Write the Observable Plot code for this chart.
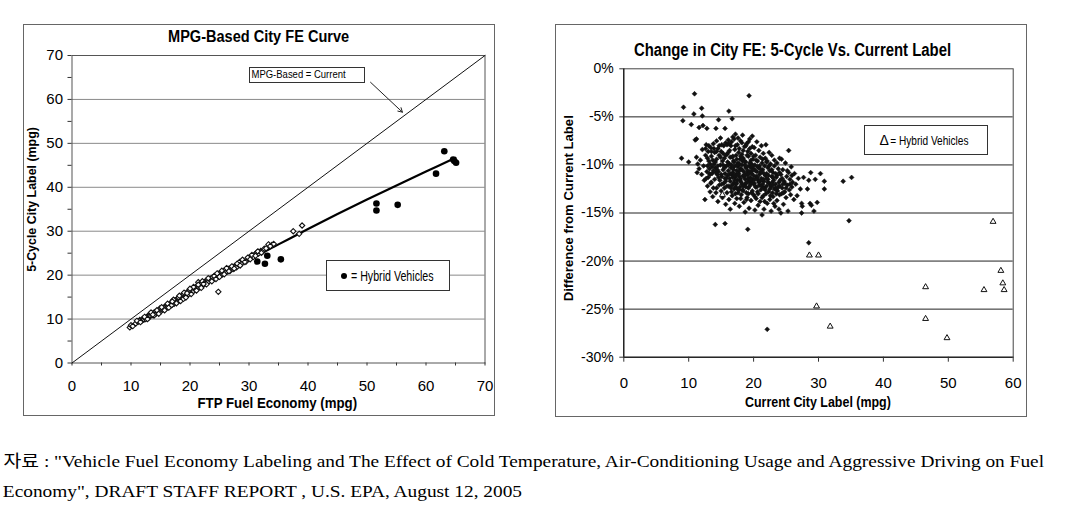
<!DOCTYPE html>
<html><head><meta charset="utf-8">
<script src="https://cdn.jsdelivr.net/npm/d3@7"></script>
<script src="https://cdn.jsdelivr.net/npm/@observablehq/plot@0.6"></script>
<style>
body{margin:0;background:#fff;}
#root{position:relative;width:1071px;height:511px;overflow:hidden;font-family:"Liberation Sans",Arial,sans-serif;color:#000;background:#fff;}
.box{position:absolute;box-sizing:border-box;}
.t{position:absolute;white-space:nowrap;line-height:1;transform-origin:50% 50%;}
#root svg{position:absolute;}
</style></head><body><div id="root"></div>
<script>
// ---------------- DATA ----------------
// Left chart: FTP fuel economy (mpg) vs 5-cycle city label (mpg)
const leftTicksLabeled = [0, 10, 20, 30, 40, 50, 60, 70];
const leftGridValues = [10, 20, 30, 40, 50, 60];
const diagonal = [[0, 0], [70, 70]];
const fitCurve = [[10,8.2],[15,12.3],[20,16.1],[25,19.8],[30,23.5],[35,27.0],[40,30.5],[45,33.9],[50,37.2],[55,40.4],[60,43.6],[65,46.7]];
const conventionalLeft = [
[9.8,8.1],[10.0,8.6],[10.3,8.4],[10.8,9.0],[11.2,9.4],[11.5,9.8],[11.8,9.6],[12.0,10.1],[12.1,10.0],[12.2,9.9],[12.4,10.3],[12.5,10.0],[12.7,10.4],[12.9,10.7],[13.0,10.3],[13.1,11.0],[13.2,11.1],[13.3,10.8],[13.5,11.2],[13.6,10.9],[13.8,11.4],[14.0,11.1],[14.1,11.6],[14.3,11.3],[14.5,11.8],[14.6,11.5],[14.8,12.0],[14.9,12.4],[15.0,11.7],[15.1,12.3],[15.3,12.1],[15.5,12.6],[15.6,12.2],[15.8,12.8],[16.0,12.5],[16.1,13.1],[16.2,13.3],[16.3,12.8],[16.5,13.4],[16.6,13.0],[16.8,13.6],[16.9,13.9],[17.0,13.3],[17.1,13.9],[17.3,13.5],[17.4,14.2],[17.5,14.3],[17.6,13.8],[17.8,14.4],[17.9,14.0],[18.0,14.8],[18.2,14.3],[18.3,15.0],[18.5,14.6],[18.6,15.3],[18.7,15.2],[18.8,14.9],[18.9,15.6],[19.1,15.1],[19.2,15.8],[19.4,15.4],[19.5,16.0],[19.6,16.1],[19.7,15.6],[19.8,16.3],[20.0,15.9],[20.1,16.6],[20.3,16.2],[20.4,16.8],[20.5,16.9],[20.6,16.4],[20.7,17.1],[20.9,16.7],[21.0,17.3],[21.2,16.9],[21.3,17.6],[21.4,18.4],[21.5,17.2],[21.6,17.6],[21.7,17.9],[21.8,17.4],[22.0,18.1],[22.2,17.7],[22.4,18.4],[22.5,18.0],[22.6,18.5],[22.7,18.7],[22.9,18.3],[23.0,18.9],[23.2,18.6],[23.4,19.2],[23.5,19.0],[23.6,18.8],[23.8,19.5],[24.0,19.1],[24.2,19.8],[24.3,19.4],[24.5,20.0],[24.7,19.7],[24.8,16.2],[24.9,20.3],[25.1,20.0],[25.3,20.6],[25.5,20.2],[25.7,20.9],[25.9,20.5],[26.1,21.2],[26.3,20.8],[26.5,21.4],[26.8,21.0],[27.0,21.7],[27.3,21.4],[27.6,22.1],[27.9,21.8],[28.2,22.5],[28.4,23.0],[28.7,22.6],[29.0,23.3],[29.5,23.1],[30.0,23.9],[30.3,24.3],[30.7,24.1],[31.0,24.7],[31.3,25.1],[31.6,24.9],[32.0,25.5],[32.3,25.3],[32.6,26.0],[33.3,27.0],[33.9,26.9],[34.2,27.1],[37.5,30.0],[38.5,29.4],[39.0,31.3],
[11.0,9.6],[11.6,9.3],[12.3,10.5],[12.8,10.0],[13.4,11.5],[13.9,10.8],[14.4,12.0],[14.7,11.2],[15.2,12.7],[15.7,12.0],[16.2,13.5],[16.4,12.6],[16.9,13.2],[17.2,14.4],[17.7,13.6],[18.1,14.9],[18.4,14.1],[18.9,14.6],[19.0,16.0],[19.3,14.9],[19.9,16.6],[20.2,15.7],[20.6,17.3],[21.1,16.5],[21.4,17.8],[21.9,17.1],[22.1,18.6],[22.8,17.9],[23.1,19.3],[23.7,18.6],[24.1,19.8],[24.4,19.1],[24.6,20.4],[25.0,19.6],[25.4,21.0],[25.8,20.2],[26.2,21.6],[26.6,20.9],[27.1,22.0],[27.5,21.5],[28.0,22.6],[28.5,22.2],[28.9,23.5],[29.3,23.0],[29.8,24.0],[30.2,23.6],[30.5,24.6],[31.1,24.4],[31.5,25.4],[32.1,25.1],[32.9,26.1],[33.6,26.6],[13.7,11.0],[17.0,14.0],[19.5,15.9],[22.3,18.0],[18.2,15.3],[20.0,16.9]
];
const hybridLeft = [[31.4,23.1],[32.7,22.6],[33.1,24.4],[35.4,23.6],[51.6,36.3],[51.6,34.7],[55.2,36.0],[61.7,43.1],[63.1,48.2],[64.6,46.3],[64.8,46.0],[65.1,45.6]];
const annotationArrow = [[50.6, 63.9, 56.0, 57.1]];

// Right chart: current city label (mpg) vs difference from current label (%)
const rightTicksX = [0, 10, 20, 30, 40, 50, 60];
const rightTicksY = [-30, -25, -20, -15, -10, -5, 0];
const rightGridValues = [-5, -10, -15, -20, -25];
const conventionalRight = [
[9.2,-4.0],[9.1,-5.4],[8.9,-9.3],[10.0,-9.7],[10.4,-5.8],[10.9,-2.6],[10.8,-4.7],[11.6,-6.1],[12.0,-4.1],[12.1,-4.9],[12.2,-5.9],[11.0,-7.4],[11.2,-7.3],[12.8,-6.2],[14.2,-6.2],[14.6,-5.3],[16.2,-4.4],[16.7,-5.2],[15.6,-6.2],[19.3,-2.8],[14.1,-16.2],[15.6,-16.1],[19.1,-16.7],[22.1,-27.1],[28.5,-18.1],[33.8,-11.7],[35.1,-11.3],[34.7,-15.8],[30.3,-10.9],[30.9,-11.7],[30.9,-12.5],[29.5,-11.5],[28.8,-10.8],[28.5,-11.6],[27.7,-11.3],[28.3,-12.5],[29.8,-13.9],[28.7,-14.0],[28.9,-14.2],[29.3,-14.8],[27.4,-15.0],[27.4,-14.0],[25.4,-8.5],[24.3,-9.4],[24.2,-15.0],
[11.2,-9.2],[11.4,-9.9],[11.6,-10.4],[11.3,-10.8],[11.8,-9.5],[12.0,-11.0],[12.1,-8.4],[12.3,-10.1],[12.4,-11.6],[12.6,-9.0],[12.7,-7.9],[12.8,-10.7],[12.9,-12.2],[12.5,-13.6],[13.0,-8.6],[13.0,-11.3],[13.1,-9.6],[13.2,-10.4],[13.3,-12.8],[13.4,-8.2],[13.4,-11.9],[13.5,-9.1],[13.6,-10.9],[13.7,-13.3],[13.8,-7.8],[13.8,-12.4],[13.9,-9.9],[14.0,-11.5],[14.0,-8.7],
[14.1,-10.3],[14.2,-12.9],[14.3,-9.4],[14.3,-7.5],[14.4,-11.0],[14.5,-13.8],[14.5,-8.3],[14.6,-10.7],[14.7,-12.1],[14.7,-9.0],[14.8,-11.6],[14.9,-7.2],[14.9,-10.0],[15.0,-12.7],[15.0,-8.6],[15.1,-11.2],[15.2,-9.6],[15.2,-13.4],[15.3,-10.5],[15.4,-8.0],[15.4,-11.9],[15.5,-9.3],[15.5,-12.4],[15.6,-10.9],[15.7,-7.7],[15.7,-14.1],[15.8,-10.1],[15.8,-11.4],[15.9,-8.9],[15.9,-12.9],[16.0,-9.7],[16.0,-11.1],
[16.1,-7.4],[16.1,-10.6],[16.2,-12.2],[16.2,-13.6],[16.3,-8.5],[16.3,-9.9],[16.4,-11.7],[16.4,-14.6],[16.5,-10.3],[16.5,-8.0],[16.6,-12.8],[16.6,-11.0],[16.7,-9.2],[16.7,-13.2],[16.8,-10.8],[16.8,-7.1],[16.9,-11.9],[16.9,-9.6],[17.0,-12.5],[17.0,-10.2],[17.1,-8.4],[17.1,-14.0],[17.2,-11.3],[17.2,-6.8],[17.3,-9.0],[17.3,-12.0],[17.4,-10.6],[17.4,-13.5],[17.5,-7.9],[17.5,-11.6],[17.6,-9.8],[17.6,-12.9],[17.7,-10.9],[17.7,-8.7],[17.8,-11.2],[17.8,-14.3],[17.9,-9.4],[17.9,-12.3],[18.0,-10.4],[18.0,-7.5],
[18.1,-11.8],[18.1,-13.1],[18.2,-8.9],[18.2,-10.0],[18.3,-12.6],[18.3,-6.9],[18.4,-11.1],[18.4,-9.3],[18.5,-13.9],[18.5,-10.7],[18.6,-8.1],[18.6,-12.1],[18.7,-11.5],[18.7,-14.9],[18.8,-9.7],[18.8,-10.3],[18.9,-12.9],[18.9,-7.8],[19.0,-11.0],[19.0,-13.4],[19.1,-8.6],[19.1,-10.6],[19.2,-12.4],[19.2,-9.1],[19.3,-11.7],[19.3,-14.5],[19.4,-7.3],[19.4,-10.1],[19.5,-12.0],[19.5,-11.3],[19.6,-8.8],[19.6,-13.7],[19.7,-9.9],[19.7,-10.9],[19.8,-12.7],[19.8,-7.0],[19.9,-11.5],[19.9,-9.4],[20.0,-13.1],[20.0,-10.4],
[20.1,-8.2],[20.1,-11.9],[20.2,-14.7],[20.2,-10.0],[20.3,-12.3],[20.3,-9.0],[20.4,-11.2],[20.4,-13.5],[20.5,-7.6],[20.5,-10.7],[20.6,-12.8],[20.6,-9.6],[20.7,-11.6],[20.7,-14.2],[20.8,-8.5],[20.8,-10.3],[20.9,-12.1],[20.9,-11.0],[21.0,-9.2],[21.0,-13.8],[21.1,-10.8],[21.1,-12.6],[21.2,-8.0],[21.2,-11.4],[21.3,-15.2],[21.3,-9.8],[21.4,-12.0],[21.4,-10.5],[21.5,-13.2],[21.5,-8.8],[21.6,-11.7],[21.6,-14.6],[21.7,-10.1],[21.7,-12.4],[21.8,-9.3],[21.8,-11.1],[21.9,-13.0],[21.9,-7.9],[22.0,-10.9],[22.0,-12.2],
[22.1,-9.6],[22.1,-14.0],[22.2,-11.5],[22.2,-10.3],[22.3,-12.8],[22.4,-8.7],[22.4,-11.9],[22.5,-13.6],[22.5,-10.6],[22.6,-9.9],[22.7,-12.3],[22.7,-14.8],[22.8,-11.2],[22.8,-9.0],[22.9,-12.9],[23.0,-10.8],[23.0,-13.3],[23.1,-11.6],[23.2,-9.5],[23.2,-12.5],[23.3,-14.3],[23.4,-10.9],[23.4,-12.0],[23.5,-11.3],[23.6,-13.7],[23.6,-9.8],[23.7,-12.7],[23.8,-10.4],[23.9,-11.8],[23.9,-14.6],[24.0,-12.2],[24.0,-9.3],
[24.2,-11.0],[24.3,-13.0],[24.4,-12.4],[24.5,-10.5],[24.6,-14.1],[24.7,-11.7],[24.8,-12.8],[24.9,-9.8],[25.0,-13.4],[25.1,-11.2],[25.2,-12.1],[25.3,-14.8],[25.4,-10.8],[25.5,-12.6],[25.6,-11.5],[25.7,-13.1],[25.8,-10.2],[25.9,-12.3],[26.0,-11.8],[26.2,-13.6],[26.3,-10.9],[26.5,-12.0],[26.7,-13.2],[26.9,-11.4],[27.2,-12.5],[27.5,-14.3],
[16.4,-10.9],[16.9,-10.5],[17.3,-11.0],[17.6,-10.2],[17.9,-11.6],[18.2,-10.5],[18.5,-11.2],[18.8,-11.9],[19.1,-11.4],[19.4,-10.7],[19.7,-11.8],[20.0,-11.1],[20.3,-10.6],[20.6,-11.3],[20.9,-10.1],[18.3,-9.6],[18.9,-10.9],[19.6,-10.3],[17.1,-11.6],[17.8,-9.9],[15.3,-10.0],[14.6,-11.3],[13.6,-10.2],[12.9,-10.1],[13.3,-11.0],[14.2,-10.8],[15.7,-11.7],[16.1,-10.0],[21.2,-10.7],[22.3,-11.1],[22.9,-11.8],[23.5,-12.6],[24.1,-11.6],[24.6,-12.9],[21.5,-12.4],[20.2,-13.3],[19.2,-13.0],[18.4,-12.7],[17.5,-12.5],[16.7,-12.1],
[12.6,-8.3],[12.9,-9.3],[13.1,-8.0],[13.3,-9.9],[13.5,-8.6],[13.7,-9.5],[13.9,-8.3],[14.1,-9.7],[14.3,-8.6],[14.5,-10.1],[14.7,-8.0],[14.9,-9.2],[15.1,-7.9],[15.3,-8.8],[15.5,-10.3],[15.7,-9.0],[15.9,-7.9],[16.1,-8.7],[13.2,-10.9],[13.8,-10.6],[14.4,-10.5],[15.0,-11.0],[15.6,-11.4],[12.7,-11.4],[13.5,-11.8],[14.3,-12.4],[15.1,-12.0],[15.9,-12.2],
[16.2,-7.8],[16.4,-9.2],[16.6,-7.6],[16.8,-9.1],[17.0,-7.3],[17.2,-8.0],[17.4,-9.4],[17.6,-7.2],[17.8,-8.3],[18.0,-9.1],[18.2,-7.7],[18.4,-8.5],[18.6,-9.6],[18.8,-8.0],[19.0,-9.0],[19.2,-7.6],[19.4,-8.3],[19.6,-9.5],[19.8,-8.1],[20.0,-9.1],[16.3,-11.4],[16.5,-12.4],[16.8,-11.3],[17.0,-11.1],[17.2,-12.3],[17.4,-11.9],[17.6,-11.0],[17.8,-12.6],[18.0,-11.4],[18.2,-12.0],[18.4,-12.2],[18.6,-11.1],[18.8,-12.3],[19.0,-11.8],[19.2,-11.0],[19.4,-12.2],[19.6,-11.6],[19.8,-10.6],[20.0,-12.0],[16.6,-10.0],[17.0,-9.7],[17.4,-10.0],[17.8,-10.6],[18.2,-9.4],[18.6,-10.0],[19.0,-10.2],[19.4,-9.8],[19.8,-10.1],[17.2,-13.0],[18.0,-13.5],[18.9,-13.6],[19.7,-12.9],
[20.2,-11.5],[20.4,-9.5],[20.6,-10.2],[20.8,-11.8],[21.0,-10.4],[21.2,-12.2],[21.4,-9.4],[21.6,-10.9],[21.8,-12.6],[22.0,-9.7],[22.2,-11.8],[22.4,-10.1],[22.6,-12.1],[22.8,-10.5],[23.0,-11.3],[23.2,-10.1],[23.4,-12.4],[23.6,-11.1],[23.8,-12.3],[24.0,-10.8],[20.5,-12.3],[21.0,-11.7],[21.5,-11.5],[22.0,-11.4],[22.5,-12.5],[23.0,-12.1],[23.5,-13.0],[24.0,-13.1],[20.7,-13.0],[21.3,-13.4],[22.6,-13.2],[21.7,-13.8],[23.1,-14.0],[24.4,-11.4],[24.8,-11.9],[25.2,-10.6],[25.6,-12.0],[25.9,-11.1],[24.5,-12.0],[25.0,-12.4]
];
const hybridRight = [[15.2,-13.1],[28.6,-19.4],[30.0,-19.4],[29.7,-24.7],[31.8,-26.8],[46.5,-22.7],[46.5,-26.0],[49.8,-28.0],[55.5,-23.0],[56.9,-15.9],[58.1,-21.0],[58.4,-22.3],[58.6,-23.0]];

const texts = {
  leftTitle: "MPG-Based City FE Curve",
  leftX: "FTP Fuel Economy (mpg)",
  leftY: "5-Cycle City Label (mpg)",
  leftNote: "MPG-Based = Current",
  leftLegend: "= Hybrid Vehicles",
  rightTitle: "Change in City FE: 5-Cycle Vs. Current Label",
  rightX: "Current City Label (mpg)",
  rightY: "Difference from Current Label",
  rightLegend: "= Hybrid Vehicles",
  caption1: "자료 : \"Vehicle Fuel Economy Labeling and The Effect of Cold Temperature, Air-Conditioning Usage and Aggressive Driving on Fuel",
  caption2: "Economy\", DRAFT STAFF REPORT , U.S. EPA, August 12, 2005"
};

// ---------------- LAYOUT HELPERS ----------------
const root = document.getElementById("root");
function box(l, t, w, h, style) {
  const d = document.createElement("div");
  d.className = "box";
  Object.assign(d.style, {left: l + "px", top: t + "px", width: w + "px", height: h + "px"}, style);
  root.appendChild(d);
  return d;
}
function label(str, o) {
  const el = document.createElement("span");
  el.className = "t";
  el.textContent = str;
  el.style.fontSize = o.size + "px";
  el.style.fontWeight = o.weight || "normal";
  el.style.fontFamily = o.family || '"Liberation Sans", Arial, sans-serif';
  root.appendChild(el);
  const mw = el.offsetWidth, mh = el.offsetHeight;
  const s = o.scale != null ? o.scale : (o.w ? o.w / mw : 1);
  const cx = o.left != null ? o.left + mw * s / 2 : o.cx;
  el.style.left = (cx - mw / 2) + "px";
  el.style.top = (o.cy - mh / 2) + "px";
  el.style.transform = (o.rotate ? "rotate(-90deg) " : "") + `scaleX(${s})`;
  return s;
}

// panel borders
box(22.5, 24, 472, 392, {border: "1px solid #666"});
box(555, 24, 472, 393, {border: "1px solid #666"});

const X = d => d[0], Y = d => d[1];
const font = '"Liberation Sans", Arial, sans-serif';

// ---------------- LEFT CHART ----------------
const leftChart = Plot.plot({
  width: 540, height: 420,
  marginLeft: 71.5, marginRight: 55.5, marginTop: 55, marginBottom: 57.5,
  x: {domain: [0, 70]}, y: {domain: [0, 70]},
  style: {fontFamily: font, fontSize: "15px", color: "#000", background: "transparent", overflow: "visible"},
  marks: [
    Plot.ruleY(leftGridValues, {stroke: "#8a8a8a", strokeWidth: 1}),
    Plot.frame({stroke: "#555"}),
    Plot.axisY({ticks: d3.range(0, 71, 5), tickFormat: d => leftTicksLabeled.includes(d) ? String(d) : "", tickSize: 4, tickPadding: 5, label: null, fontSize: 15, stroke: "#333"}),
    Plot.axisX({ticks: d3.range(0, 71, 5), tickFormat: d => leftTicksLabeled.includes(d) ? String(d) : "", tickSize: 3, tickPadding: 14, label: null, fontSize: 15, stroke: "#333"}),
    Plot.line(diagonal, {x: X, y: Y, stroke: "#111", strokeWidth: 1}),
    Plot.line(fitCurve, {x: X, y: Y, stroke: "#000", strokeWidth: 2.2, curve: "catmull-rom"}),
    Plot.dot(conventionalLeft, {x: X, y: Y, symbol: "diamond2", r: 2.4, fill: "white", stroke: "#111", strokeWidth: 1.1}),
    Plot.dot(hybridLeft, {x: X, y: Y, symbol: "circle", r: 3.3, fill: "#000"}),
    Plot.arrow(annotationArrow, {x1: d => d[0], y1: d => d[1], x2: d => d[2], y2: d => d[3], stroke: "#222", strokeWidth: 1, headLength: 7})
  ]
});
leftChart.style.left = "0px"; leftChart.style.top = "0px";
root.appendChild(leftChart);

// ---------------- RIGHT CHART ----------------
const rightChart = Plot.plot({
  width: 531, height: 420,
  marginLeft: 83.3, marginRight: 58.3, marginTop: 68.3, marginBottom: 63.3,
  x: {domain: [0, 60]}, y: {domain: [-30, 0]},
  style: {fontFamily: font, fontSize: "14px", color: "#000", background: "transparent", overflow: "visible"},
  marks: [
    Plot.ruleY(rightGridValues, {stroke: "#222", strokeWidth: 1}),
    Plot.frame({stroke: "#444"}),
    Plot.ruleX([0], {stroke: "#000"}),
    Plot.ruleY([-30], {stroke: "#000"}),
    Plot.axisY({ticks: rightTicksY, tickFormat: d => d + "%", tickSize: 4, tickPadding: 6, label: null, fontSize: 14, stroke: "#333"}),
    Plot.axisX({ticks: rightTicksX, tickFormat: d => String(d), tickSize: 5, tickPadding: 15, label: null, fontSize: 15, stroke: "#333"}),
    Plot.dot(conventionalRight, {x: X, y: Y, symbol: "diamond2", r: 2.2, fill: "#111", stroke: "#111", strokeWidth: 0.5}),
    Plot.dot(hybridRight, {x: X, y: Y, symbol: "triangle2", r: 2.8, fill: "white", stroke: "#111", strokeWidth: 1})
  ]
});
rightChart.style.left = "540px"; rightChart.style.top = "0px";
root.appendChild(rightChart);

// ---------------- TEXT ----------------
label(texts.leftTitle, {cx: 258.5, cy: 37, w: 181, size: 16, weight: "bold"});
label(texts.leftX, {cx: 277, cy: 402, w: 160, size: 15, weight: "bold"});
label(texts.leftY, {cx: 32, cy: 199, w: 145, size: 13, weight: "bold", rotate: true});
label(texts.rightTitle, {cx: 792, cy: 50, w: 317, size: 18, weight: "bold"});
label(texts.rightX, {cx: 818, cy: 401, w: 146, size: 15, weight: "bold"});
label(texts.rightY, {cx: 569.7, cy: 208.3, w: 186, size: 12.5, weight: "bold", rotate: true});

// annotation box
box(249, 67, 116, 15.5, {border: "1px solid #333", background: "#fff"});
label(texts.leftNote, {left: 251.7, cy: 74.8, w: 94, size: 11});

// left legend
box(326, 259.5, 123.5, 31, {border: "1.5px solid #333", background: "#fff"});
box(340.8, 272.8, 6.6, 6.6, {borderRadius: "50%", background: "#000"});
label(texts.leftLegend, {left: 351, cy: 276, w: 83, size: 14});

// right legend
box(863.7, 125.4, 124, 30, {border: "1.5px solid #333", background: "#fff"});
label("Δ", {cx: 884, cy: 139.5, size: 14});
label(texts.rightLegend, {left: 890.6, cy: 140, w: 78.4, size: 13});

// caption
const capFamily = '"Liberation Serif", "Noto Sans CJK KR", serif';
const capScale = label(texts.caption1, {left: 3, cy: 462, w: 1040, size: 16.5, family: capFamily});
label(texts.caption2, {left: 3, cy: 492, scale: capScale, size: 16.5, family: capFamily});
</script>
</body></html>
